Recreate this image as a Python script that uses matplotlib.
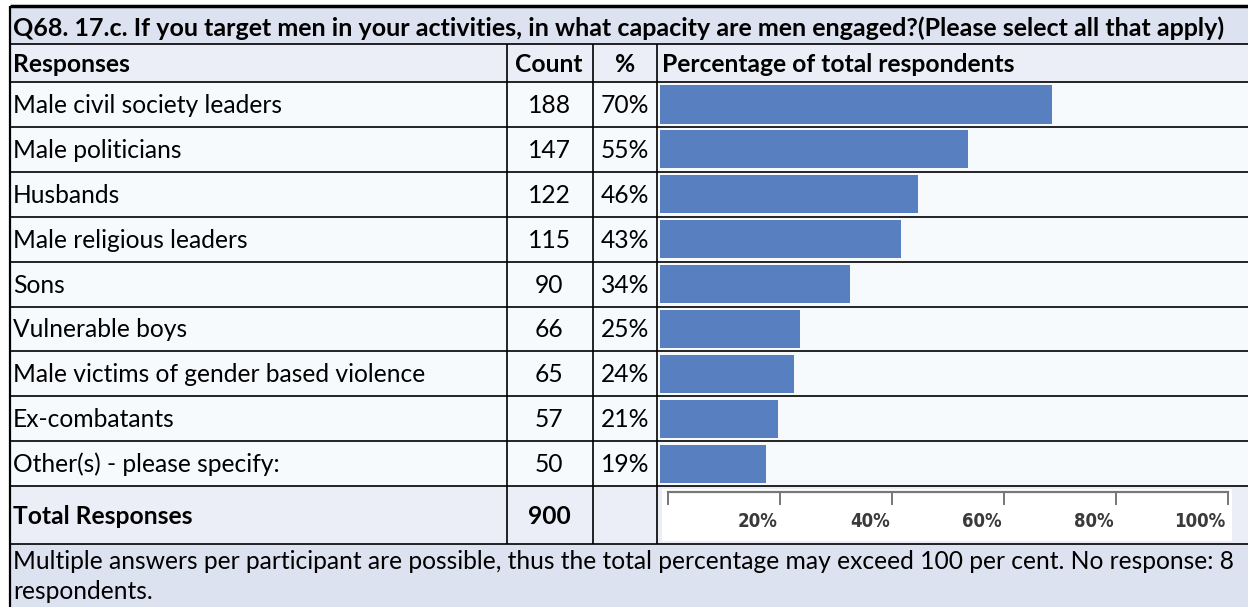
import matplotlib
matplotlib.use("Agg")
import matplotlib.pyplot as plt
from matplotlib.patches import Rectangle
from matplotlib import font_manager as fm

# ---------------- data ----------------
title = "Q68. 17.c. If you target men in your activities, in what capacity are men engaged?(Please select all that apply)"
headers = ["Responses", "Count", "%", "Percentage of total respondents"]
responses = ["Male civil society leaders", "Male politicians", "Husbands",
             "Male religious leaders", "Sons", "Vulnerable boys",
             "Male victims of gender based violence", "Ex-combatants",
             "Other(s) - please specify:"]
counts = [188, 147, 122, 115, 90, 66, 65, 57, 50]
percents = [70, 55, 46, 43, 34, 25, 24, 21, 19]
total_label = "Total Responses"
total_count = 900
scale_ticks = [20, 40, 60, 80, 100]
footnote = ["Multiple answers per participant are possible, thus the total percentage may exceed 100 per cent. No response: 8",
            "respondents."]

# ---------------- layout (pixels) ----------------
W, H = 1248, 607
DPI = 100
FONT = ["Lato", "DejaVu Sans"]
fig = plt.figure(figsize=(W / DPI, H / DPI), dpi=DPI)
ax = fig.add_axes([0, 0, 1, 1])
ax.set_xlim(0, W)
ax.set_ylim(H, 0)
ax.axis("off")

renderer = fig.canvas.get_renderer()

def fit_size(txt, target_px, weight="normal", family=FONT):
    t = fig.text(0, 0, txt, fontsize=10, family=family, weight=weight)
    w = t.get_window_extent(renderer).width
    t.remove()
    return 10 * target_px / w

fs_title = fit_size(title, 1209, "bold")
fs_body = fit_size(responses[0], 268)
fs_foot = fit_size(footnote[0], 1227)
fs_body = (fs_body + fs_foot) / 2
fs_bold = fs_body

# narrow bold font for the scale labels if one is installed
scale_prop = None
for f in fm.fontManager.ttflist:
    nm = f.name + " " + str(f.stretch)
    if (("Narrow" in f.name or "Condensed" in f.name or str(f.stretch) in ("condensed", "semi-condensed"))
            and f.weight in ("bold", 700) and "Oblique" not in f.fname and "Italic" not in f.fname):
        scale_prop = fm.FontProperties(fname=f.fname)
        break
if scale_prop is not None:
    t = fig.text(0, 0, "20%", fontsize=10, fontproperties=scale_prop)
    w = t.get_window_extent(renderer).width
    t.remove()
    scale_prop.set_size(min(10 * 40 / w, 15))
else:
    scale_prop = fm.FontProperties(family="DejaVu Sans", weight="bold", size=12.5)

left = 10
top_line = 6
title_bot = 44
head_bot = 82
row_h = 44.9
n = len(responses)
rows_bot = head_bot + n * row_h
total_bot = 544
col_x = [507, 593, 657]
count_cx = 549
pct_cx = 625

C_TITLE = "#dce2ef"
C_HEAD = "#ebeef6"
C_ROW = "#f7fafd"
C_TOTAL = "#ebeef6"
C_FOOT = "#dce2ef"
C_BAR = "#5880c0"

# backgrounds
ax.add_patch(Rectangle((left, top_line), W - left, title_bot - top_line, color=C_TITLE, lw=0))
ax.add_patch(Rectangle((left, title_bot), W - left, head_bot - title_bot, color=C_HEAD, lw=0))
ax.add_patch(Rectangle((left, head_bot), W - left, rows_bot - head_bot, color=C_ROW, lw=0))
ax.add_patch(Rectangle((left, rows_bot), W - left, total_bot - rows_bot, color=C_TOTAL, lw=0))
ax.add_patch(Rectangle((left, total_bot), W - left, H - total_bot, color=C_FOOT, lw=0))

# lines
ax.plot([left, W], [top_line, top_line], color="black", lw=2.5, solid_capstyle="butt")
ax.plot([left, left], [top_line, H], color="black", lw=1.6, solid_capstyle="butt")
hlines = [title_bot, head_bot] + [head_bot + i * row_h for i in range(1, n + 1)] + [total_bot]
for y in hlines:
    ax.plot([left, W], [y, y], color="black", lw=1.2, solid_capstyle="butt")
for x in col_x:
    ax.plot([x, x], [title_bot, total_bot], color="black", lw=1.2, solid_capstyle="butt")

# title and headers
ax.text(13, 36, title, fontsize=fs_title, weight="bold", family=FONT, va="baseline")
hb = 72.5
ax.text(13, hb, headers[0], fontsize=fs_bold, weight="bold", family=FONT, va="baseline")
ax.text(count_cx, hb, headers[1], fontsize=fs_bold, weight="bold", family=FONT, va="baseline", ha="center")
ax.text(pct_cx, hb, headers[2], fontsize=fs_bold, weight="bold", family=FONT, va="baseline", ha="center")
ax.text(662, hb, headers[3], fontsize=fs_bold, weight="bold", family=FONT, va="baseline")

# rows
for i, (r, c, p) in enumerate(zip(responses, counts, percents)):
    yb = head_bot + i * row_h + row_h / 2 + 8.5
    ax.text(13, yb, r, fontsize=fs_body, family=FONT, va="baseline")
    ax.text(count_cx, yb, str(c), fontsize=fs_body, family=FONT, va="baseline", ha="center")
    ax.text(pct_cx, yb, f"{p}%", fontsize=fs_body, family=FONT, va="baseline", ha="center")

# total row
tb = (rows_bot + total_bot) / 2 + 8.5
ax.text(13, tb, total_label, fontsize=fs_bold, weight="bold", family=FONT, va="baseline")
ax.text(count_cx, tb, str(total_count), fontsize=fs_bold, weight="bold", family=FONT, va="baseline", ha="center")

# footnote
ax.text(13, 569, footnote[0], fontsize=fs_foot, family=FONT, va="baseline")
ax.text(13, 599, footnote[1], fontsize=fs_foot, family=FONT, va="baseline")

# ---------------- bar axes ----------------
def px_axes(x0, y0, x1, y1):
    return fig.add_axes([x0 / W, 1 - y1 / H, (x1 - x0) / W, (y1 - y0) / H])

bx0, bx1 = 660, 1220
bax = px_axes(bx0, head_bot, bx1, rows_bot)
bax.set_xlim(0, 100)
bax.set_ylim(n - 0.5, -0.5)
bax.barh(range(n), percents, height=0.85, color=C_BAR, lw=0)
bax.axis("off")
bax.patch.set_alpha(0)

# scale box in total row
ax.add_patch(Rectangle((662, rows_bot + 2.5), 570, total_bot - rows_bot - 6, color="white", lw=0))
sax = px_axes(668, 492, 1228, 530)
sax.set_xlim(0, 100)
sax.set_ylim(1, 0)
sax.patch.set_alpha(0)
for s in ["left", "right", "bottom"]:
    sax.spines[s].set_visible(False)
sax.spines["top"].set_color("#777777")
sax.spines["top"].set_linewidth(1.6)
sax.xaxis.tick_top()
sax.set_xticks([0] + scale_ticks)
sax.tick_params(axis="x", direction="in", length=9, width=1.4, color="#777777",
                labeltop=False, labelbottom=False)
sax.set_yticks([])
for v in scale_ticks:
    sax.text(v - 0.4, 0.93, f"{v}%", fontproperties=scale_prop, color="#3a3a3a",
             ha="right", va="baseline")

fig.savefig("out.png", dpi=DPI)
